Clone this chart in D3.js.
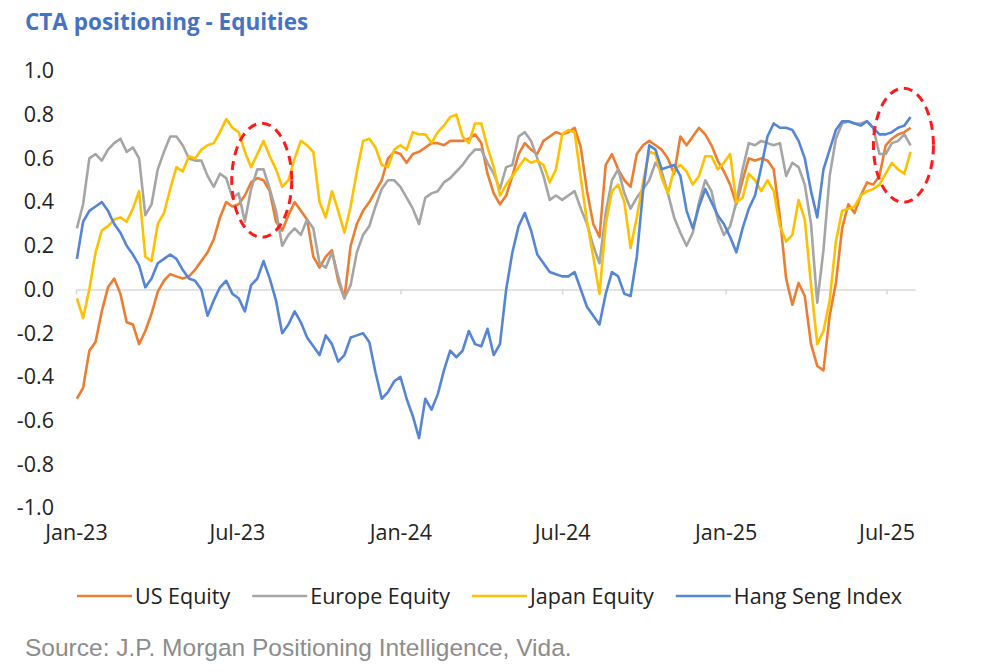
<!DOCTYPE html>
<html>
<head>
<meta charset="utf-8">
<script src="https://cdn.jsdelivr.net/npm/d3@7"></script>
<style>
  body { margin: 0; background: #fff; }
  svg { display: block; }
</style>
</head>
<body>
<svg id="chart" width="1006" height="672"></svg>
<script>
// weekly readings, first Monday of 2023 onwards
const startDate = new Date(2023, 0, 2);
const dates = d3.range(135).map(i => d3.timeDay.offset(startDate, 7 * i));

const usEquity = [
  -0.50, -0.45, -0.28, -0.24, -0.10, 0.01, 0.05, -0.02, -0.15, -0.16,
  -0.25, -0.19, -0.11, -0.01, 0.04, 0.07, 0.06, 0.05, 0.06, 0.09,
  0.13, 0.17, 0.23, 0.33, 0.40, 0.38, 0.39, 0.43, 0.49, 0.51,
  0.50, 0.45, 0.31, 0.27, 0.34, 0.40, 0.36, 0.32, 0.15, 0.10,
  0.15, 0.18, 0.04, -0.04, 0.20, 0.30, 0.36, 0.40, 0.45, 0.50,
  0.60, 0.63, 0.62, 0.58, 0.62, 0.63, 0.65, 0.67, 0.67, 0.66,
  0.68, 0.68, 0.68, 0.69, 0.71, 0.67, 0.53, 0.44, 0.39, 0.43,
  0.52, 0.62, 0.67, 0.64, 0.62, 0.68, 0.70, 0.72, 0.71, 0.72,
  0.74, 0.65, 0.45, 0.30, 0.24, 0.57, 0.62, 0.55, 0.50, 0.47,
  0.62, 0.66, 0.68, 0.66, 0.64, 0.60, 0.53, 0.70, 0.66, 0.70,
  0.74, 0.71, 0.66, 0.59, 0.54, 0.48, 0.39, 0.50, 0.60, 0.59,
  0.60, 0.59, 0.55, 0.33, 0.05, -0.07, 0.03, -0.03, -0.25, -0.35,
  -0.37, -0.12, 0.03, 0.28, 0.39, 0.35, 0.43, 0.49, 0.48, 0.52,
  0.66, 0.69, 0.71, 0.72, 0.74
];

const europeEquity = [
  0.28, 0.39, 0.60, 0.62, 0.59, 0.64, 0.67, 0.69, 0.63, 0.65,
  0.60, 0.34, 0.39, 0.55, 0.63, 0.70, 0.70, 0.66, 0.60, 0.59,
  0.59, 0.52, 0.47, 0.53, 0.51, 0.42, 0.44, 0.31, 0.46, 0.55,
  0.55, 0.46, 0.36, 0.20, 0.25, 0.28, 0.25, 0.32, 0.28, 0.12,
  0.10, 0.17, 0.06, -0.04, 0.02, 0.17, 0.25, 0.29, 0.38, 0.46,
  0.50, 0.50, 0.47, 0.42, 0.37, 0.30, 0.42, 0.44, 0.45, 0.49,
  0.51, 0.54, 0.57, 0.61, 0.64, 0.64, 0.58, 0.53, 0.46, 0.56,
  0.57, 0.70, 0.72, 0.68, 0.60, 0.52, 0.41, 0.43, 0.41, 0.43,
  0.45, 0.37, 0.30, 0.20, 0.12, 0.35, 0.50, 0.55, 0.44, 0.37,
  0.42, 0.46, 0.50, 0.58, 0.54, 0.44, 0.33, 0.26, 0.20, 0.26,
  0.40, 0.50, 0.45, 0.32, 0.25, 0.29, 0.40, 0.55, 0.67, 0.66,
  0.68, 0.67, 0.66, 0.67, 0.52, 0.58, 0.56, 0.48, 0.30, -0.06,
  0.18, 0.52, 0.69, 0.76, 0.77, 0.76, 0.76, 0.77, 0.74, 0.62,
  0.62, 0.67, 0.68, 0.71, 0.66
];

const japanEquity = [
  -0.04, -0.13, 0.00, 0.17, 0.27, 0.29, 0.32, 0.33, 0.31, 0.37,
  0.45, 0.15, 0.13, 0.30, 0.35, 0.46, 0.56, 0.54, 0.61, 0.60,
  0.64, 0.66, 0.67, 0.72, 0.78, 0.74, 0.72, 0.63, 0.56, 0.62,
  0.68, 0.61, 0.55, 0.47, 0.50, 0.60, 0.68, 0.66, 0.63, 0.40,
  0.33, 0.45, 0.36, 0.26, 0.38, 0.54, 0.68, 0.69, 0.65, 0.57,
  0.56, 0.64, 0.66, 0.64, 0.72, 0.71, 0.71, 0.67, 0.72, 0.75,
  0.79, 0.80, 0.70, 0.67, 0.76, 0.76, 0.65, 0.56, 0.43, 0.48,
  0.52, 0.56, 0.60, 0.58, 0.59, 0.57, 0.49, 0.55, 0.71, 0.73,
  0.72, 0.51, 0.31, 0.15, -0.02, 0.30, 0.45, 0.48, 0.40, 0.19,
  0.33, 0.49, 0.63, 0.62, 0.51, 0.44, 0.55, 0.57, 0.54, 0.48,
  0.52, 0.61, 0.61, 0.55, 0.58, 0.62, 0.40, 0.42, 0.53, 0.50,
  0.45, 0.50, 0.45, 0.29, 0.22, 0.25, 0.41, 0.32, 0.02, -0.25,
  -0.19, -0.05, 0.22, 0.36, 0.37, 0.38, 0.43, 0.45, 0.46, 0.48,
  0.53, 0.58, 0.55, 0.53, 0.63
];

const hangSeng = [
  0.14, 0.31, 0.36, 0.38, 0.40, 0.36, 0.30, 0.26, 0.20, 0.16,
  0.11, 0.01, 0.05, 0.12, 0.14, 0.16, 0.14, 0.09, 0.05, 0.04,
  0.00, -0.12, -0.05, 0.01, 0.04, -0.02, -0.04, -0.10, 0.02, 0.05,
  0.13, 0.05, -0.05, -0.20, -0.16, -0.10, -0.15, -0.22, -0.26, -0.30,
  -0.21, -0.25, -0.33, -0.30, -0.22, -0.21, -0.20, -0.24, -0.38, -0.50,
  -0.47, -0.42, -0.40, -0.50, -0.58, -0.68, -0.50, -0.55, -0.48, -0.37,
  -0.28, -0.31, -0.28, -0.19, -0.25, -0.26, -0.18, -0.30, -0.25, 0.00,
  0.17, 0.29, 0.35, 0.27, 0.16, 0.12, 0.08, 0.07, 0.06, 0.06,
  0.08, 0.00, -0.08, -0.12, -0.16, -0.02, 0.08, 0.06, -0.02, -0.03,
  0.15, 0.45, 0.66, 0.64, 0.55, 0.56, 0.57, 0.52, 0.36, 0.28,
  0.38, 0.46, 0.40, 0.34, 0.30, 0.24, 0.17, 0.28, 0.37, 0.43,
  0.56, 0.70, 0.76, 0.74, 0.74, 0.73, 0.68, 0.60, 0.45, 0.33,
  0.55, 0.64, 0.73, 0.77, 0.77, 0.76, 0.75, 0.77, 0.74, 0.71,
  0.71, 0.72, 0.74, 0.75, 0.79
];

const seriesNames = ["US Equity", "Europe Equity", "Japan Equity", "Hang Seng Index"];
const seriesColors = ["#ED7D31", "#A5A5A5", "#FFC000", "#5585D5"];
const tickDates = [new Date(2023, 0, 1), new Date(2023, 6, 1), new Date(2024, 0, 1),
                   new Date(2024, 6, 1), new Date(2025, 0, 1), new Date(2025, 6, 1)];
const tickLabels = ["Jan-23", "Jul-23", "Jan-24", "Jul-24", "Jan-25", "Jul-25"];
const yTicks = [-1.0, -0.8, -0.6, -0.4, -0.2, 0.0, 0.2, 0.4, 0.6, 0.8, 1.0];
// red rings drawn by the analyst
const highlightDates = [new Date(2023, 6, 29), new Date(2025, 6, 20)];
const highlightValues = [0.50, 0.66];

const series = [usEquity, europeEquity, japanEquity, hangSeng];

const svg = d3.select("#chart");
const labelFont = "'Open Sans', sans-serif";

const x = d3.scaleTime()
  .domain([new Date(2023, 0, 1), new Date(2025, 7, 2)])
  .range([76, 915]);

const y = d3.scaleLinear()
  .domain([-1, 1])
  .range([508, 71]);

// title
svg.append("text")
  .attr("x", 25)
  .attr("y", 30)
  .style("font-family", labelFont)
  .style("font-weight", "bold")
  .style("font-size", "22.5px")
  .style("fill", "#4472C4")
  .text("CTA positioning - Equities");

// y labels, no axis line
const yAxis = svg.append("g")
  .attr("transform", "translate(57,0)")
  .call(d3.axisLeft(y).tickValues(yTicks).tickSize(0).tickPadding(3)
    .tickFormat(d => d.toFixed(1)));
yAxis.select(".domain").remove();
yAxis.selectAll("text")
  .style("font-family", labelFont)
  .style("font-size", "21.5px")
  .style("fill", "#222");

// zero line with the little date ticks
const zeroAxis = svg.append("g")
  .attr("transform", `translate(0,${y(0)})`)
  .call(d3.axisBottom(x).tickValues(tickDates).tickSize(5).tickSizeOuter(0).tickFormat(""));
zeroAxis.select(".domain").attr("stroke", "#D9D9D9").attr("stroke-width", 1.5);
zeroAxis.selectAll(".tick line").attr("stroke", "#D9D9D9").attr("stroke-width", 1.5);

// date labels sit at the bottom
const xLabels = svg.append("g")
  .attr("transform", "translate(0,517)")
  .call(d3.axisBottom(x).tickValues(tickDates).tickSize(0).tickPadding(8)
    .tickFormat((d, i) => tickLabels[i]));
xLabels.select(".domain").remove();
xLabels.selectAll("text")
  .style("font-family", labelFont)
  .style("font-size", "21.5px")
  .style("fill", "#222");

// lines
const line = d3.line()
  .x((d, i) => x(dates[i]))
  .y(d => y(d));

// same stacking as the original (blue on top)
series.forEach((values, s) => {
  svg.append("path")
    .datum(values)
    .attr("fill", "none")
    .attr("stroke", seriesColors[s])
    .attr("stroke-width", 2.6)
    .attr("stroke-linejoin", "round")
    .attr("d", line);
});

// dashed red ellipses
svg.selectAll(".ring")
  .data(highlightDates)
  .enter()
  .append("ellipse")
  .attr("class", "ring")
  .attr("cx", d => x(d))
  .attr("cy", (d, i) => y(highlightValues[i]))
  .attr("rx", 30)
  .attr("ry", 57)
  .attr("fill", "none")
  .attr("stroke", "#FF1A1A")
  .attr("stroke-width", 3)
  .attr("stroke-dasharray", "9,6");

// legend
const legend = svg.append("g").attr("transform", "translate(0,596)");
let lx = 77;
seriesNames.forEach((name, i) => {
  legend.append("line")
    .attr("x1", lx).attr("x2", lx + 55)
    .attr("y1", 0).attr("y2", 0)
    .attr("stroke", seriesColors[i])
    .attr("stroke-width", 2.6);
  const t = legend.append("text")
    .attr("x", lx + 58)
    .attr("y", 7.5)
    .style("font-family", labelFont)
    .style("font-size", "21.5px")
    .style("fill", "#222")
    .text(name);
  lx += 58 + t.node().getComputedTextLength() + 22;
});

// source
svg.append("text")
  .attr("x", 25)
  .attr("y", 656)
  .style("font-family", "'Liberation Sans', Arial, sans-serif")
  .style("font-size", "24.5px")
  .style("fill", "#8C8C8C")
  .text("Source: J.P. Morgan Positioning Intelligence, Vida.");
</script>
</body>
</html>
